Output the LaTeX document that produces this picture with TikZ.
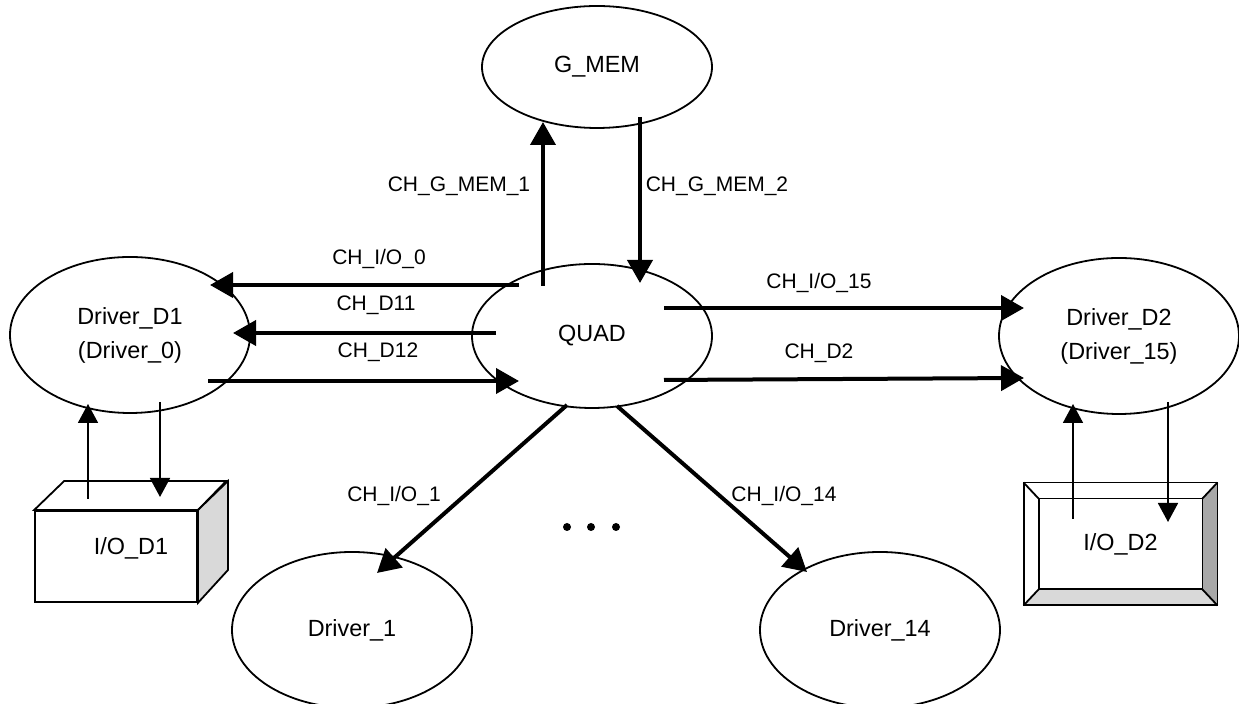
\documentclass[tikz,border=0pt]{standalone}
\usepackage{fontspec}
\setmainfont{Liberation Sans}
\usetikzlibrary{shapes.geometric,arrows.meta}
\definecolor{sidegray}{gray}{0.85}
\definecolor{bevelgray}{gray}{0.66}
\newcommand{\drvfont}{\fontsize{11.7}{17}\selectfont}
\newcommand{\chfont}{\fontsize{10.5}{12}\selectfont}
\begin{document}
\begin{tikzpicture}[x=0.5pt,y=-0.5pt,
      driver/.style={draw,ellipse,line width=0.9pt,minimum width=120pt,
        minimum height=78pt,inner sep=0pt,align=center,font=\drvfont},
      chan/.style={line width=2pt,-{Triangle[length=11.5pt,width=12.5pt]}},
      wire/.style={line width=0.9pt,-{Triangle[length=9.5pt,width=10pt]}},
      chlabel/.style={font=\chfont,inner sep=0pt}]
      \useasboundingbox (0,0) rectangle (1239,704);
      % ellipses
      \path (597,67) node[driver,minimum width=115pt,minimum height=61pt] (gmem) {G\_MEM};
      \path (592,336) node[driver,minimum height=72pt] (quad) {QUAD};
      \path (130,335) node[driver] (d1) {Driver\_D1\\(Driver\_0)};
      \path (1119,336) node[driver] (d2) {Driver\_D2\\(Driver\_15)};
      \path (352,630) node[driver] (drv1) {Driver\_1};
      \path (880,630) node[driver] (drv14) {Driver\_14};
      % I/O_D1 box
      \path (116,556.5) node[draw,fill=white,line width=0.9pt,minimum width=81pt,
        minimum height=45.5pt] (io1) {};
      \draw[line width=0.9pt,fill=white] (io1.north west)--++(30,-29)--++(162,0)--(io1.north east)--cycle;
      \draw[line width=0.9pt,fill=sidegray] (io1.north east)--++(30,-29)--++(0,89)--(io1.south east)--cycle;
      \path ([shift={(15,-8)}]io1.center) node[font=\drvfont] (io1txt) {I/O\_D1};
      % I/O_D2 bevel
      \path (1120.5,544) node[minimum width=96.5pt,minimum height=61pt,
        font=\drvfont] (io2) {I/O\_D2};
      \fill[bevelgray] (io2.north east)--(io2.south east)--++(-15,-16)--++(0,-90)--cycle;
      \fill[sidegray] (io2.south west)--(io2.south east)--++(-15,-16)--++(-163,0)--cycle;
      \draw[line width=0.9pt] (io2.north west) rectangle (io2.south east);
      \draw[line width=0.9pt] ([shift={(15,16)}]io2.north west) rectangle ([shift={(-15,-16)}]io2.south east);
      \draw[line width=0.9pt] (io2.north west)--++(15,16);
      \draw[line width=0.9pt] (io2.north east)--++(-15,16);
      \draw[line width=0.9pt] (io2.south west)--++(15,-16);
      \draw[line width=0.9pt] (io2.south east)--++(-15,-16);
      % channels
      \draw[chan] ([shift={(-49,-50)}]quad.center)--([shift={(-54,55)}]gmem.center);
      \draw[chan] ([shift={(43,50)}]gmem.center)--([shift={(48,-53)}]quad.center);
      \draw[chan] ([shift={(-73,-51)}]quad.center)--([shift={(80,-50)}]d1.center);
      \draw[chan] ([shift={(-96,-3)}]quad.center)--([shift={(103,-2)}]d1.center);
      \draw[chan] ([shift={(78,46)}]d1.center)--([shift={(-73,45)}]quad.center);
      \draw[chan] ([shift={(72,-28)}]quad.center)--([shift={(-95,-28)}]d2.center);
      \draw[chan] ([shift={(72,44)}]quad.center)--([shift={(-95,42)}]d2.center);
      \draw[chan] ([shift={(-25,69)}]quad.center)--([shift={(25,-57)}]drv1.center);
      \draw[chan] ([shift={(25,70)}]quad.center)--([shift={(-73,-58)}]drv14.center);
      \draw[wire] ([shift={(-28,-57.5)}]io1.center)--([shift={(-42,69)}]d1.center);
      \draw[wire] ([shift={(30,67)}]d1.center)--([shift={(44,-59.5)}]io1.center);
      \draw[wire] ([shift={(-47.5,-25)}]io2.center)--([shift={(-46,68)}]d2.center);
      \draw[wire] ([shift={(49,66)}]d2.center)--([shift={(47.5,-22)}]io2.center);
      % channel names
      \path (459,186) node[chlabel] {CH\_G\_MEM\_1};
      \path (717,186) node[chlabel] {CH\_G\_MEM\_2};
      \path (379,259) node[chlabel] {CH\_I/O\_0};
      \path (376,305) node[chlabel] {CH\_D11};
      \path (378,352) node[chlabel] {CH\_D12};
      \path (819,283) node[chlabel] {CH\_I/O\_15};
      \path (819,353) node[chlabel] {CH\_D2};
      \path (394,496) node[chlabel] {CH\_I/O\_1};
      \path (784,496) node[chlabel] {CH\_I/O\_14};
      \foreach \x in {567,591,616}
        \fill (\x,527) circle (2pt);
     \end{tikzpicture}
\end{document}
